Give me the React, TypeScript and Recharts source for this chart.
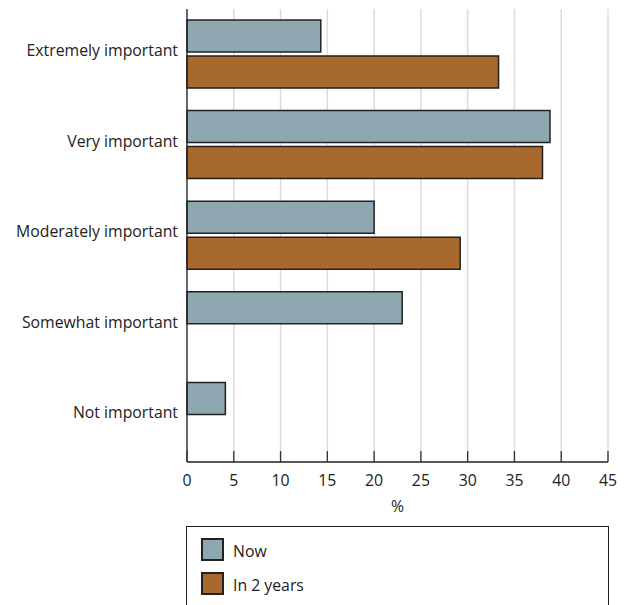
import React from 'react';
import { BarChart, Bar, XAxis, YAxis, CartesianGrid, Legend } from 'recharts';

const categories = ['Extremely important', 'Very important', 'Moderately important', 'Somewhat important', 'Not important'];
const nowValues = [14.3, 38.8, 20.0, 23.0, 4.1];
const in2YearsValues: (number | null)[] = [33.3, 38.0, 29.2, null, null];
const xTicks = [0, 5, 10, 15, 20, 25, 30, 35, 40, 45];

const seriesNames = ['Now', 'In 2 years'];
const seriesColors = ['#8fa7b0', '#a8692e'];

const data = categories.map((c, i) => ({ category: c, now: nowValues[i], future: in2YearsValues[i] }));

const FONT = '"Open Sans", "DejaVu Sans", sans-serif';
const FS = 15.8;

const XTick = (props: any) => {
  const { x, y, payload } = props;
  return (
    <g>
      <line x1={x} x2={x} y1={y} y2={y - 11} stroke="#333" strokeWidth={1.3} />
      <text x={x} y={y + 23.5} textAnchor="middle" fontSize={FS} fill="#222" fontFamily={FONT}>
        {payload.value}
      </text>
    </g>
  );
};

const YTick = (props: any) => {
  const { x, y, payload } = props;
  return (
    <text x={x + 1} y={y - 4} dy="0.355em" textAnchor="end" fontSize={FS} fill="#222" fontFamily={FONT}>
      {payload.value}
    </text>
  );
};

const LegendBox = () => (
  <div
    style={{
      boxSizing: 'border-box',
      width: 423,
      height: 100,
      border: '1px solid #222',
      position: 'relative',
      fontFamily: FONT,
      fontSize: FS,
      color: '#222',
      background: '#fff',
    }}
  >
    {seriesNames.map((n, i) => (
      <div key={n} style={{ position: 'absolute', left: 14, top: 11 + i * 34, display: 'flex', alignItems: 'center' }}>
        <div
          style={{
            boxSizing: 'border-box',
            width: 23,
            height: 23,
            background: seriesColors[i],
            border: '2px solid #222',
          }}
        />
        <span style={{ marginLeft: 9, lineHeight: '23px', position: 'relative', top: 2 }}>{n}</span>
      </div>
    ))}
  </div>
);

export default function App() {
  return (
    <div style={{ position: 'absolute', left: 0, top: 0, width: 624, height: 605, background: '#fff' }}>
      <BarChart
        width={624}
        height={605}
        data={data}
        layout="vertical"
        margin={{ top: 9, right: 16, bottom: 83, left: 0 }}
        barSize={32}
        barGap={4}
      >
        <CartesianGrid horizontal={false} vertical={true} stroke="#dcdcdc" strokeWidth={1.5} />
        <XAxis
          type="number"
          domain={[0, 45]}
          ticks={xTicks}
          interval={0}
          height={60}
          tickSize={0}
          tickMargin={0}
          tickLine={false}
          tick={<XTick />}
          axisLine={{ stroke: '#222', strokeWidth: 1.3 }}
          label={{ value: '%', position: 'insideBottom', offset: 10, fontSize: FS, fill: '#222', fontFamily: FONT }}
        />
        <YAxis
          type="category"
          dataKey="category"
          width={187}
          tickLine={false}
          tickSize={0}
          tickMargin={10}
          interval={0}
          axisLine={{ stroke: '#222', strokeWidth: 1.3 }}
          tick={<YTick />}
        />
        <Bar dataKey="now" name={seriesNames[0]} fill={seriesColors[0]} stroke="#222" strokeWidth={1.5} isAnimationActive={false} />
        <Bar dataKey="future" name={seriesNames[1]} fill={seriesColors[1]} stroke="#222" strokeWidth={1.5} isAnimationActive={false} />
        <Legend
          layout="vertical"
          align="center"
          verticalAlign="middle"
          wrapperStyle={{ left: 186, top: 526, width: 423, height: 100 }}
          content={<LegendBox />}
        />
      </BarChart>
    </div>
  );
}
